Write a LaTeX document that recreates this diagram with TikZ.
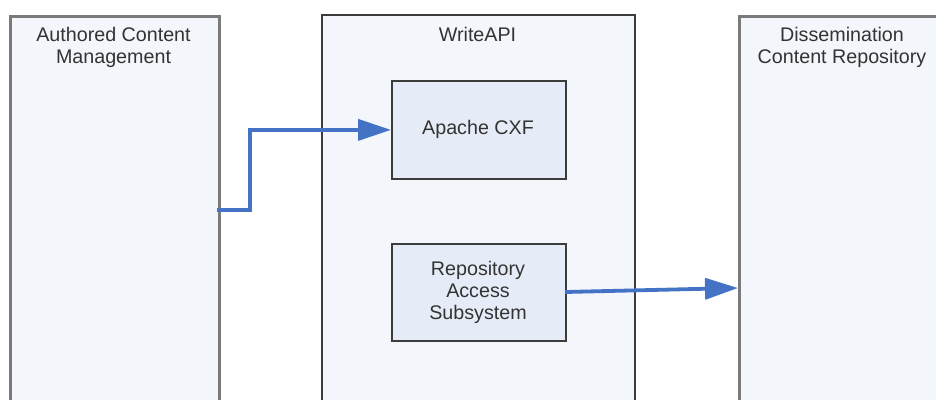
\documentclass[tikz,border=0pt]{standalone}
\usepackage{fontspec}
\setmainfont{Liberation Sans}
\usetikzlibrary{arrows.meta}
\definecolor{outerfill}{HTML}{F3F6FB}
\definecolor{innerfill}{HTML}{E6ECF7}
\definecolor{sidedraw}{HTML}{7A7A7A}
\definecolor{middraw}{HTML}{3C3C3C}
\definecolor{txt}{HTML}{333333}
\definecolor{flow}{HTML}{4472C4}
\tikzset{
  sidebox/.style={draw=sidedraw, line width=2.8pt, fill=outerfill, anchor=north west, inner sep=0pt},
  midbox/.style={draw=middraw, line width=1.8pt, fill=outerfill, anchor=north west, inner sep=0pt},
  innerbox/.style={draw=middraw, line width=1.8pt, fill=innerfill, anchor=north west, inner sep=0pt},
  lbl/.style={text=txt, font=\fontsize{19.7}{22}\selectfont, align=center, anchor=base, inner sep=0pt},
  flowarrow/.style={draw=flow, line width=3.8pt, -{Triangle[length=33pt,width=21pt]}}
}
\begin{document}
\begin{tikzpicture}[x=1pt,y=-1pt]
\useasboundingbox (0,0) rectangle (936,399);
\clip (0,0) rectangle (936,399);
% outer boxes
\node[sidebox, minimum width=209pt, minimum height=420pt] (acm) at (9,15) {};
\node[midbox, minimum width=313pt, minimum height=420pt] (wapi) at (321,14) {};
\node[sidebox, minimum width=240pt, minimum height=420pt] (dcr) at (738,15) {};
% inner boxes
\node[innerbox, minimum width=174pt, minimum height=98pt] (cxf) at (391,80) {};
\node[innerbox, minimum width=174pt, minimum height=97pt] (ras) at (391,243) {};
% labels (base anchor = baseline of last line)
\node[lbl] (acmlbl) at (113.5,63) {Authored Content\\Management};
\node[lbl] (wapilbl) at (477.5,41) {WriteAPI};
\node[lbl] (dcrlbl) at (842,63) {Dissemination\\Content Repository};
\node[lbl] (cxflbl) at (478,134) {Apache CXF};
\node[lbl] (raslbl) at (478,319) {Repository\\Access\\Subsystem};
% connectors
\coordinate (s1) at (217,210);
\coordinate (s2) at (565,292);
\coordinate (e2) at (738,288);
\draw[flowarrow] (s1) -- (250,210) |- (cxf.west);
\draw[flowarrow] (s2) -- (e2);
\end{tikzpicture}
\end{document}
